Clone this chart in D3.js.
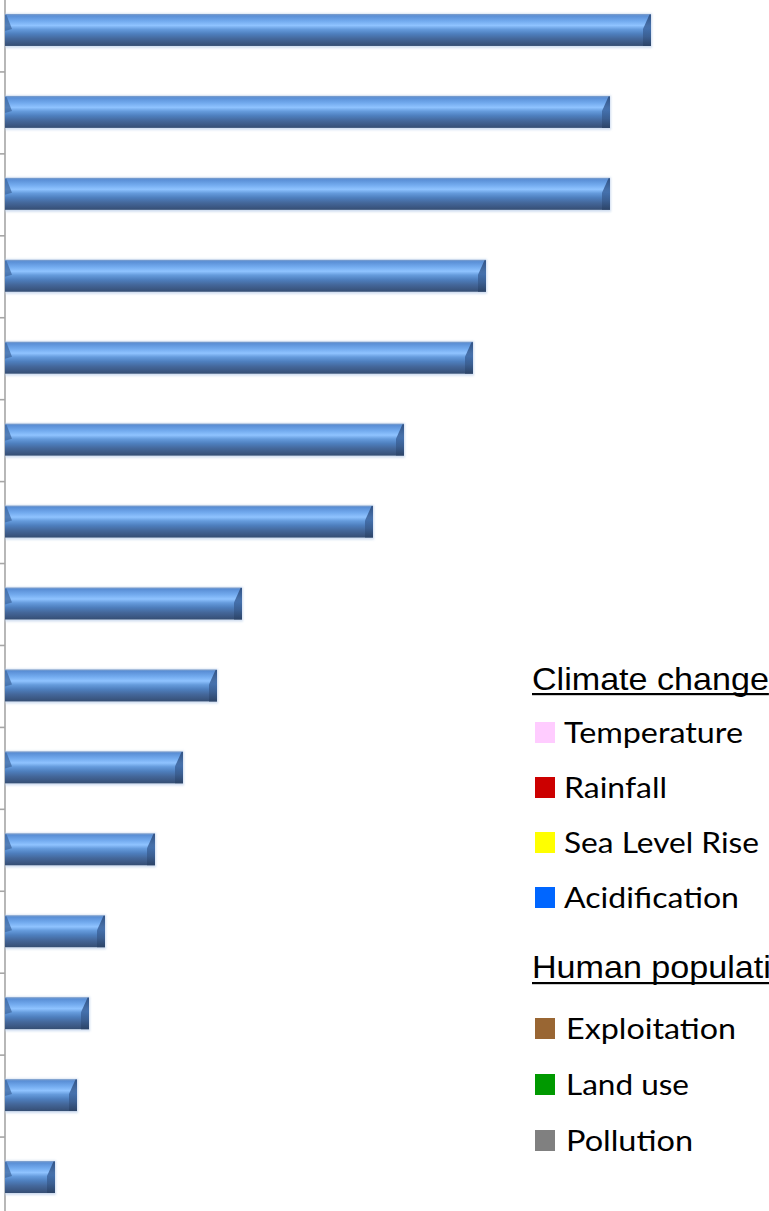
<!DOCTYPE html>
<html>
<head>
<meta charset="utf-8">
<script src="https://cdn.jsdelivr.net/npm/d3@7"></script>
<style>
  html, body { margin: 0; padding: 0; background: #ffffff; overflow: hidden; }
  svg { display: block; }
</style>
</head>
<body>
<svg id="chart" width="769" height="1211"></svg>
<script>
// Ranked pressures, largest first
const categories = ["1", "2", "3", "4", "5", "6", "7", "8", "9", "10", "11", "12", "13", "14", "15"];
const values = [64.6, 60.5, 60.5, 48.1, 46.8, 39.9, 36.8, 23.7, 21.2, 17.8, 15.0, 10.0, 8.4, 7.2, 5.0];

// Legend groups
const climateTitle = "Climate change";
const climateItems = ["Temperature", "Rainfall", "Sea Level Rise", "Acidification"];
const climateColors = ["#ffccff", "#cc0000", "#ffff00", "#0066ff"];
const humanTitle = "Human population";
const humanItems = ["Exploitation", "Land use", "Pollution"];
const humanColors = ["#996633", "#009900", "#808080"];

const svg = d3.select("#chart");
const W = 769, H = 1211;

const x = d3.scaleLinear().domain([0, 80]).range([5, 805]);
const y = d3.scaleBand()
  .domain(categories)
  .range([-11, 1218])
  .paddingInner(0.61)
  .paddingOuter(0.305);

const defs = svg.append("defs");

// Cylinder-like shading across the bar thickness
const barGrad = defs.append("linearGradient")
  .attr("id", "barGrad").attr("x1", 0).attr("y1", 0).attr("x2", 0).attr("y2", 1);
[
  [0.00, "#7f9fca"],
  [0.06, "#5a8fd6"],
  [0.22, "#72aaee"],
  [0.36, "#8fc3ff"],
  [0.48, "#659bdc"],
  [0.62, "#4e7fbe"],
  [0.78, "#44679a"],
  [0.92, "#3b5782"],
  [1.00, "#354e73"]
].forEach(([o, c]) => barGrad.append("stop").attr("offset", o).attr("stop-color", c));

const capGrad = defs.append("linearGradient")
  .attr("id", "capGrad").attr("x1", 0).attr("y1", 0).attr("x2", 0).attr("y2", 1);
[
  [0.00, "#2c4a78"],
  [0.45, "#3d67a2"],
  [0.70, "#395c8e"],
  [1.00, "#2b4265"]
].forEach(([o, c]) => capGrad.append("stop").attr("offset", o).attr("stop-color", c));

const glow = defs.append("filter").attr("id", "glow")
  .attr("x", "-5%").attr("y", "-30%").attr("width", "110%").attr("height", "160%");
glow.append("feGaussianBlur").attr("stdDeviation", 1.2);

// Axis line and tick marks at the band boundaries
const axisColor = "#a6a6a6";
svg.append("line")
  .attr("x1", x(0)).attr("x2", x(0))
  .attr("y1", 0).attr("y2", H)
  .attr("stroke", axisColor).attr("stroke-width", 1.6);

const boundaries = categories.slice(1).map(c => y(c) - y.step() * y.paddingInner() / 2);
svg.append("g").selectAll("line")
  .data(boundaries)
  .join("line")
  .attr("x1", 0).attr("x2", x(0))
  .attr("y1", d => d + 1).attr("y2", d => d + 1)
  .attr("stroke", axisColor).attr("stroke-width", 1.6);

// Bars
const bw = y.bandwidth();
const bars = svg.append("g").selectAll("g")
  .data(categories.map((c, i) => ({ c, v: values[i] })))
  .join("g");

// soft halo
bars.append("rect")
  .attr("x", x(0))
  .attr("y", d => y(d.c) - 0.5)
  .attr("width", d => x(d.v) - x(0) + 1)
  .attr("height", bw + 2.5)
  .attr("fill", "#c3d4ec")
  .attr("opacity", 0.8)
  .attr("filter", "url(#glow)");

bars.append("rect")
  .attr("x", x(0))
  .attr("y", d => y(d.c))
  .attr("width", d => x(d.v) - x(0))
  .attr("height", bw)
  .attr("fill", "url(#barGrad)");

// right bevel
bars.append("path")
  .attr("d", d => {
    const x1 = x(d.v), t = y(d.c), b = t + bw;
    return `M${x1 - 1.5},${t + 0.5} L${x1},${t + 0.5} L${x1},${b} L${x1 - 8},${b} L${x1 - 8},${t + 15} Z`;
  })
  .attr("fill", "url(#capGrad)")
  .attr("opacity", 0.85);

// left bevel
bars.append("path")
  .attr("d", d => {
    const x0 = x(0), t = y(d.c);
    return `M${x0},${t + 1} L${x0 + 1.5},${t + 1} L${x0 + 7},${t + 15} L${x0},${t + 17} Z`;
  })
  .attr("fill", "#3f68a0")
  .attr("opacity", 0.75);

// Legend
function heading(text, baseline, underlineY) {
  const g = svg.append("g").attr("transform", `translate(532,${baseline}) scale(1.1,1)`);
  const t = g.append("text")
    .attr("x", 0).attr("y", 0)
    .attr("font-family", "'Liberation Sans', Arial, sans-serif")
    .attr("font-size", 31)
    .attr("fill", "#000")
    .text(text);
  const w = t.node().getComputedTextLength();
  g.append("rect")
    .attr("x", 0).attr("y", underlineY - baseline - 1)
    .attr("width", w).attr("height", 2.2)
    .attr("fill", "#000");
}

function items(labels, colors, swatchTops, textX, widths) {
  labels.forEach((lab, i) => {
    const top = swatchTops[i];
    svg.append("rect")
      .attr("x", 535).attr("y", top)
      .attr("width", 20).attr("height", 21)
      .attr("fill", colors[i]);
    svg.append("text")
      .attr("x", textX).attr("y", top + 20.5)
      .attr("font-family", "Lato, 'Open Sans', sans-serif")
      .attr("font-size", 28.5)
      .attr("fill", "#000")
      .attr("textLength", widths[i])
      .attr("lengthAdjust", "spacingAndGlyphs")
      .text(lab);
  });
}

heading(climateTitle, 690, 694);
items(climateItems, climateColors, [722, 777, 832, 887], 564, [179, 103, 195, 175]);

heading(humanTitle, 978, 983);
items(humanItems, humanColors, [1018, 1074, 1130], 566, [170, 123, 127]);
</script>
</body>
</html>
